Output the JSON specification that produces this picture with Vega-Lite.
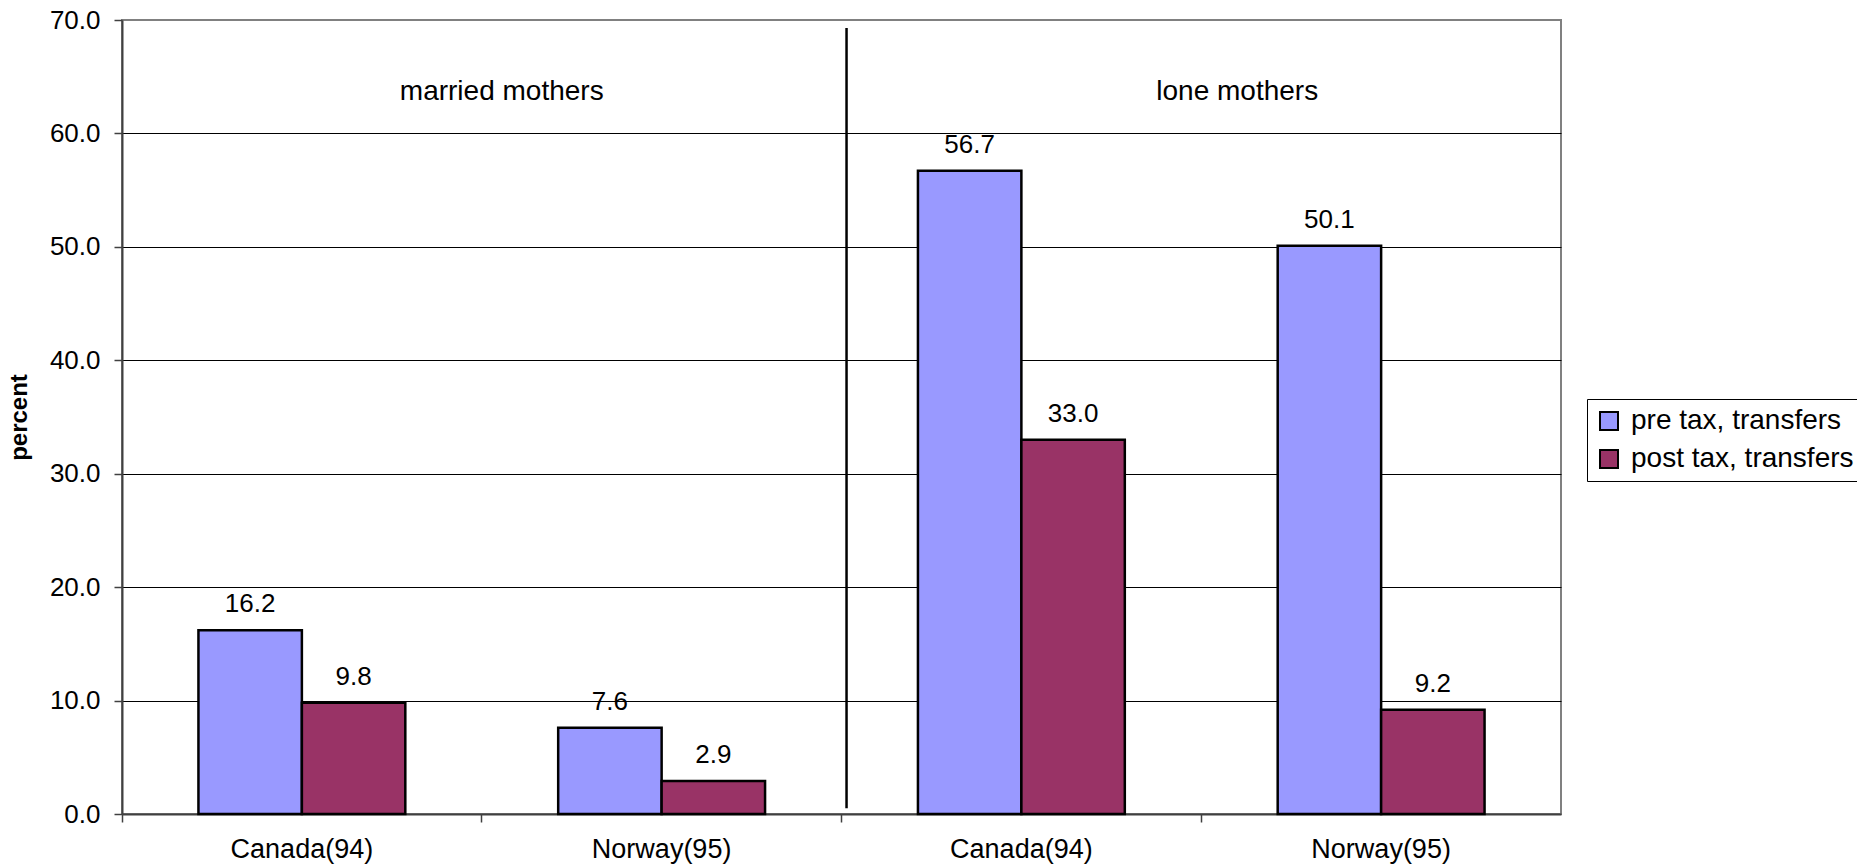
{
  "$schema": "https://vega.github.io/schema/vega-lite/v6.json",
  "width": 1439,
  "height": 794,
  "autosize": {"type": "none"},
  "padding": {"left": 122, "top": 20, "right": 296, "bottom": 54},
  "background": "white",
  "config": {
    "font": "Liberation Sans",
    "view": {"stroke": "#808080", "strokeWidth": 2}
  },
  "datasets": {
    "bars": [
      {"cat": "married|Canada(94)", "series": "pre tax, transfers", "value": 16.2},
      {"cat": "married|Canada(94)", "series": "post tax, transfers", "value": 9.8},
      {"cat": "married|Norway(95)", "series": "pre tax, transfers", "value": 7.6},
      {"cat": "married|Norway(95)", "series": "post tax, transfers", "value": 2.9},
      {"cat": "lone|Canada(94)", "series": "pre tax, transfers", "value": 56.7},
      {"cat": "lone|Canada(94)", "series": "post tax, transfers", "value": 33.0},
      {"cat": "lone|Norway(95)", "series": "pre tax, transfers", "value": 50.1},
      {"cat": "lone|Norway(95)", "series": "post tax, transfers", "value": 9.2}
    ],
    "divider": [
      {"cat": "lone|Canada(94)", "value": 69.3, "value2": 0.5}
    ],
    "married": [
      {"cat": "married|Norway(95)", "value": 63.65, "label": "married mothers"}
    ],
    "lone": [
      {"cat": "lone|Norway(95)", "value": 63.65, "label": "lone mothers"}
    ]
  },
  "layer": [
    {
      "data": {"name": "bars"},
      "mark": {"type": "bar", "stroke": "black", "strokeWidth": 2.5},
      "encoding": {
        "x": {
          "field": "cat", "type": "nominal", "title": null,
          "scale": {
            "domain": ["married|Canada(94)", "married|Norway(95)", "lone|Canada(94)", "lone|Norway(95)"],
            "paddingInner": 0, "paddingOuter": 0
          },
          "axis": {
            "labelExpr": "split(datum.value, '|')[1]",
            "labelAngle": 0,
            "labelFontSize": 27,
            "labelColor": "black",
            "labelPadding": 14,
            "bandPosition": 0,
            "tickSize": 8,
            "tickColor": "#404040",
            "tickWidth": 1.5,
            "domainColor": "#404040",
            "domainWidth": 2,
            "grid": false
          }
        },
        "xOffset": {
          "field": "series", "type": "nominal",
          "scale": {"domain": ["pre tax, transfers", "post tax, transfers"], "paddingInner": 0, "paddingOuter": 0.739}
        },
        "y": {
          "field": "value", "type": "quantitative", "title": "percent",
          "scale": {"domain": [0, 70], "nice": false},
          "axis": {
            "values": [0, 10, 20, 30, 40, 50, 60, 70],
            "format": ".1f",
            "labelFontSize": 26,
            "labelColor": "black",
            "labelPadding": 14,
            "tickSize": 8,
            "tickColor": "#404040",
            "tickWidth": 1.5,
            "domainColor": "#404040",
            "domainWidth": 2,
            "grid": true,
            "gridColor": "black",
            "gridWidth": 1.2,
            "gridOpacity": {"condition": {"test": "datum.value == 70 || datum.value == 0", "value": 0}, "value": 1},
            "titleFontSize": 24,
            "titleFontWeight": "bold",
            "titleColor": "black",
            "titleAngle": -90,
            "titleBaseline": "bottom",
            "titleX": -91,
            "titleY": 397,
            "titleAlign": "center"
          }
        },
        "color": {
          "field": "series", "type": "nominal",
          "scale": {"domain": ["pre tax, transfers", "post tax, transfers"], "range": ["#9999FF", "#993366"]},
          "legend": {
            "title": null,
            "orient": "none",
            "legendX": 1465,
            "legendY": 379,
            "direction": "vertical",
            "fillColor": "white",
            "strokeColor": "black",
            "padding": 8,
            "symbolType": "square",
            "symbolSize": 324,
            "symbolStrokeColor": "black",
            "symbolStrokeWidth": 2,
            "symbolOpacity": 1,
            "labelFontSize": 28,
            "labelColor": "black",
            "labelOffset": 8,
            "rowPadding": 10,
            "labelLimit": 400
          }
        }
      }
    },
    {
      "data": {"name": "bars"},
      "mark": {"type": "text", "fontSize": 26, "color": "black", "baseline": "alphabetic", "align": "center", "dy": -18},
      "encoding": {
        "x": {"field": "cat", "type": "nominal", "title": null},
        "xOffset": {"field": "series", "type": "nominal"},
        "y": {"field": "value", "type": "quantitative", "title": "percent"},
        "text": {"field": "value", "type": "quantitative", "format": ".1f"}
      }
    },
    {
      "data": {"name": "divider"},
      "mark": {"type": "rule", "color": "black", "strokeWidth": 2.5},
      "encoding": {
        "x": {"field": "cat", "type": "nominal", "title": null, "bandPosition": 0.014},
        "y": {"field": "value", "type": "quantitative", "title": "percent"},
        "y2": {"field": "value2"}
      }
    },
    {
      "data": {"name": "married"},
      "mark": {"type": "text", "fontSize": 28, "color": "black", "baseline": "middle", "align": "center", "dx": 20},
      "encoding": {
        "x": {"field": "cat", "type": "nominal", "title": null, "bandPosition": 0},
        "y": {"field": "value", "type": "quantitative", "title": "percent"},
        "text": {"field": "label", "type": "nominal"}
      }
    },
    {
      "data": {"name": "lone"},
      "mark": {"type": "text", "fontSize": 28, "color": "black", "baseline": "middle", "align": "center", "dx": 36},
      "encoding": {
        "x": {"field": "cat", "type": "nominal", "title": null, "bandPosition": 0},
        "y": {"field": "value", "type": "quantitative", "title": "percent"},
        "text": {"field": "label", "type": "nominal"}
      }
    }
  ]
}
